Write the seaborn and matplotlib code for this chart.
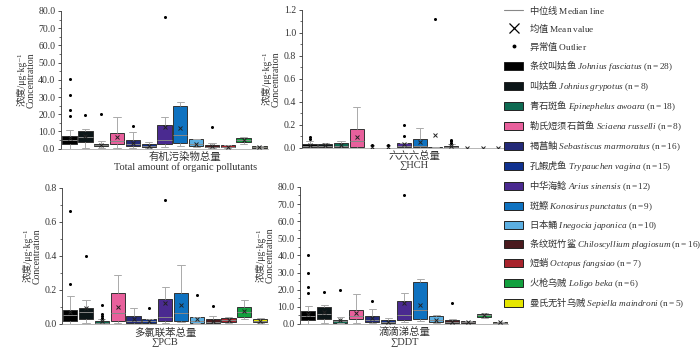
import numpy as np
import pandas as pd
import seaborn as sns
import matplotlib.pyplot as plt
from matplotlib.lines import Line2D
from matplotlib.patches import Patch
from matplotlib.ticker import MultipleLocator, FormatStrFormatter

sns.set_style('ticks')
plt.rcParams['font.family'] = ['Liberation Serif', 'Noto Sans CJK SC', 'DejaVu Serif']
plt.rcParams['mathtext.fontset'] = 'custom'
plt.rcParams['mathtext.rm'] = 'Liberation Serif'
plt.rcParams['mathtext.it'] = 'Liberation Serif:italic'
plt.rcParams['mathtext.bf'] = 'Liberation Serif:bold'

species = ['条纹叫姑鱼', '叫姑鱼', '青石斑鱼', '勒氏短须石首鱼', '褐菖鲉', '孔鰕虎鱼', '中华海鲶',
           '斑鰶', '日本鲬', '条纹斑竹鲨', '短蛸', '火枪乌贼', '曼氏无针乌贼']
latin = ['Johnius\\ fasciatus', 'Johnius\\ grypotus', 'Epinephelus\\ awoara', 'Sciaena\\ russelli',
         'Sebastiscus\\ marmoratus', 'Trypauchen\\ vagina', 'Arius\\ sinensis', 'Konosirus\\ punctatus',
         'Inegocia\\ japonica', 'Chiloscyllium\\ plagiosum', 'Octopus\\ fangsiao', 'Loligo\\ beka',
         'Sepiella\\ maindroni']
n_fish = [28, 8, 18, 8, 16, 15, 12, 9, 10, 16, 7, 6, 5]
colors = ['#000000', '#0c1618', '#0e6a52', '#e8609c', '#232a78', '#10318f', '#4a2a90',
          '#0f72c0', '#5cafe2', '#4a1a1e', '#a8232c', '#12a03e', '#e6e600']

# total organic pollutants
tot_lo = [0, 0.5, 0.5, 0.5, 0.3, 0.2, 1.0, 1.5, 0.8, 0.3, 0.3, 3.0, 0.3]
tot_q1 = [2.9, 3.7, 1.4, 2.7, 1.4, 0.8, 2.7, 3.3, 1.4, 0.8, 0.8, 4.0, 0.6]
tot_med = [5.0, 6.5, 2.0, 4.4, 2.5, 1.5, 5.0, 8.0, 2.5, 1.2, 1.2, 5.0, 0.9]
tot_q3 = [7.5, 10.0, 2.9, 9.1, 5.0, 2.7, 13.7, 24.9, 5.6, 2.3, 1.9, 6.3, 1.3]
tot_hi = [11.0, 11.4, 4.2, 18.4, 9.7, 3.9, 18.4, 27.0, 5.8, 3.3, 2.2, 7.0, 1.6]
tot_mean = [6.0, 7.5, 2.0, 6.8, 3.5, 1.5, 12.6, 12.0, 3.0, 1.5, 1.2, 5.0, 1.0]
tot_out = {0: [40.6, 31.3, 22.6, 19.1], 1: [19.7], 2: [20.0], 4: [12.9], 6: [76.3], 9: [12.8]}

# HCH
hch_lo = [0, 0, 0, 0, 0, 0, 0, 0, 0, 0, 0, 0, 0]
hch_q1 = [0.005, 0.005, 0.005, 0.005, 0, 0, 0.003, 0.003, 0, 0.002, 0, 0, 0]
hch_med = [0.015, 0.015, 0.015, 0.06, 0, 0, 0.015, 0.015, 0.001, 0.006, 0, 0, 0]
hch_q3 = [0.029, 0.03, 0.038, 0.163, 0, 0, 0.038, 0.073, 0.003, 0.015, 0, 0, 0]
hch_hi = [0.055, 0.038, 0.058, 0.352, 0, 0, 0.04, 0.169, 0.005, 0.03, 0, 0, 0]
hch_mean = [0.025, 0.02, 0.025, 0.09, 0.005, 0.005, 0.03, 0.047, 0.113, 0.012, 0, 0, 0]
hch_out = {0: [0.073, 0.09], 4: [0.02], 5: [0.02], 6: [0.10, 0.20], 8: [1.12], 9: [0.04, 0.055, 0.07]}

# PCB
pcb_lo = [0, 0.003, 0, 0.003, 0, 0.002, 0.005, 0.01, 0.004, 0, 0.005, 0.027, 0.005]
pcb_q1 = [0.020, 0.027, 0.0, 0.020, 0.003, 0.004, 0.020, 0.020, 0.008, 0.003, 0.010, 0.043, 0.010]
pcb_med = [0.05, 0.07, 0.008, 0.065, 0.02, 0.015, 0.04, 0.065, 0.02, 0.012, 0.025, 0.07, 0.02]
pcb_q3 = [0.080, 0.096, 0.016, 0.182, 0.045, 0.027, 0.149, 0.182, 0.040, 0.027, 0.037, 0.098, 0.031]
pcb_hi = [0.162, 0.139, 0.027, 0.288, 0.092, 0.030, 0.215, 0.348, 0.043, 0.047, 0.04, 0.14, 0.037]
pcb_mean = [0.07, 0.095, 0.02, 0.098, 0.03, 0.02, 0.121, 0.112, 0.03, 0.02, 0.025, 0.076, 0.02]
pcb_out = {0: [0.235, 0.665], 1: [0.40], 2: [0.037, 0.047, 0.057, 0.112], 5: [0.092], 6: [0.728],
           8: [0.168], 9: [0.106]}

# DDT
ddt_lo = [0, 0.5, 0.3, 0.5, 0.3, 0.1, 1.0, 1.5, 0.8, 0.2, 0.2, 3.5, 0.2]
ddt_q1 = [2.0, 2.9, 0.8, 2.9, 1.4, 0.4, 2.3, 2.7, 1.4, 0.4, 0.4, 4.1, 0.5]
ddt_med = [4.5, 6.0, 1.5, 4.5, 2.5, 1.2, 5.0, 8.0, 2.5, 1.0, 1.0, 5.0, 0.8]
ddt_q3 = [7.6, 9.6, 2.3, 8.4, 4.5, 2.3, 13.1, 24.4, 4.9, 2.0, 1.6, 5.8, 1.1]
ddt_hi = [10.5, 11.1, 4.1, 17.4, 8.8, 3.3, 18.0, 26.1, 5.3, 2.9, 1.9, 6.5, 1.4]
ddt_mean = [5.5, 7.0, 2.0, 6.2, 3.5, 1.3, 12.3, 11.1, 2.3, 1.2, 1.0, 5.0, 0.9]
ddt_out = {0: [18.3, 21.7, 29.9, 40.0], 1: [18.9], 2: [19.9], 4: [13.1], 6: [75.1], 9: [12.5]}

pal = dict(zip(species, colors))


def draw(ax, lo, q1, med, q3, hi, mean, out, ymax, step, minor, fmt, title, tx, xr):
    rows = []
    for i, s in enumerate(species):
        for v in [lo[i], q1[i], med[i], q3[i], hi[i]]:
            rows.append((s, v))
    df = pd.DataFrame(rows, columns=['sp', 'v'])
    sns.boxplot(data=df, x='sp', y='v', hue='sp', order=species, hue_order=species, palette=pal,
                saturation=1, whis=(0, 100), width=0.9, showfliers=False, linewidth=0.7,
                legend=False, ax=ax,
                boxprops=dict(edgecolor='#333333'),
                whiskerprops=dict(color='#aaaaaa'), capprops=dict(color='#aaaaaa'),
                medianprops=dict(color='#888888'))
    mdf = pd.DataFrame({'sp': species, 'v': mean})
    sns.pointplot(data=mdf, x='sp', y='v', order=species, errorbar=None, linestyle='none',
                  markers='x', color='#222222', markersize=3, markeredgewidth=0.7, ax=ax, zorder=6)
    orow = [(species[k], v) for k, vals in out.items() for v in vals]
    odf = pd.DataFrame(orow, columns=['sp', 'v'])
    sns.stripplot(data=odf, x='sp', y='v', order=species, jitter=False, color='black', size=2.2,
                  ax=ax, zorder=6)
    ax.set_xlim(-xr, 12 + xr)
    ax.set_ylim(0, ymax)
    ax.yaxis.set_major_locator(MultipleLocator(step))
    ax.yaxis.set_minor_locator(MultipleLocator(minor))
    ax.yaxis.set_major_formatter(FormatStrFormatter(fmt))
    ax.tick_params(axis='y', labelsize=7, length=2.5, width=0.6, pad=1.5, colors='#333333')
    ax.tick_params(axis='y', which='minor', length=1.5, width=0.5, colors='#333333')
    ax.set_xticks([])
    ax.set_xlabel('')
    ax.set_ylabel('浓度/μg·kg⁻¹\nConcentration', fontsize=7, labelpad=2, linespacing=1.0,
                  color='#333333')
    for sp in ['top', 'right']:
        ax.spines[sp].set_visible(False)
    ax.spines['left'].set_linewidth(0.6)
    ax.spines['left'].set_color('#333333')
    ax.spines['bottom'].set_linewidth(0.5)
    ax.spines['bottom'].set_color('#999999')
    ax.text(tx, -0.025, title, transform=ax.transAxes, ha='center', va='top', fontsize=7.5,
            linespacing=1.05, color='#333333')


fig = plt.figure(figsize=(7, 3.54), dpi=100)
ax1 = fig.add_axes([0.087, 0.580, 0.296, 0.389])
ax2 = fig.add_axes([0.431, 0.583, 0.292, 0.389])
ax3 = fig.add_axes([0.089, 0.085, 0.294, 0.385])
ax4 = fig.add_axes([0.429, 0.085, 0.297, 0.387])

draw(ax1, tot_lo, tot_q1, tot_med, tot_q3, tot_hi, tot_mean, tot_out, 80, 10, 5, '%.1f',
     '有机污染物总量\nTotal amount of organic pollutants', 0.6, 0.55)
draw(ax2, hch_lo, hch_q1, hch_med, hch_q3, hch_hi, hch_mean, hch_out, 1.2, 0.2, 0.1, '%.1f',
     '六六六总量\n∑HCH', 0.55, 0.5)
draw(ax3, pcb_lo, pcb_q1, pcb_med, pcb_q3, pcb_hi, pcb_mean, pcb_out, 0.8, 0.2, 0.1, '%.1f',
     '多氯联苯总量\n∑PCB', 0.5, 0.5)
draw(ax4, ddt_lo, ddt_q1, ddt_med, ddt_q3, ddt_hi, ddt_mean, ddt_out, 80, 10, 5, '%.1f',
     '滴滴涕总量\n∑DDT', 0.5, 0.5)

handles = [Line2D([], [], color='#888888', lw=0.8),
           Line2D([], [], marker='x', color='black', linestyle='none', markersize=7, markeredgewidth=0.9),
           Line2D([], [], marker='o', color='black', linestyle='none', markersize=1.8)]
labels = ['中位线 $\\mathrm{Median\\ line}$', '均值 $\\mathrm{Mean\\ value}$', '异常值 $\\mathrm{Outlier}$']
for s, l, n, c in zip(species, latin, n_fish, colors):
    handles.append(Patch(facecolor=c, edgecolor='#222222', linewidth=0.7))
    labels.append(s + ' $\\mathit{' + l + '}\\ \\mathrm{(n{=}' + str(n) + ')}$')

fig.legend(handles, labels, loc='upper left', bbox_to_anchor=(0.718, 0.995), frameon=False,
           prop={'family': ['Noto Sans CJK SC'], 'size': 6.7},
           handlelength=2.0, handleheight=0.95, labelspacing=0.55, handletextpad=0.6,
           borderaxespad=0, borderpad=0.2, labelcolor='#333333')

fig.savefig('out.png', dpi=100)
